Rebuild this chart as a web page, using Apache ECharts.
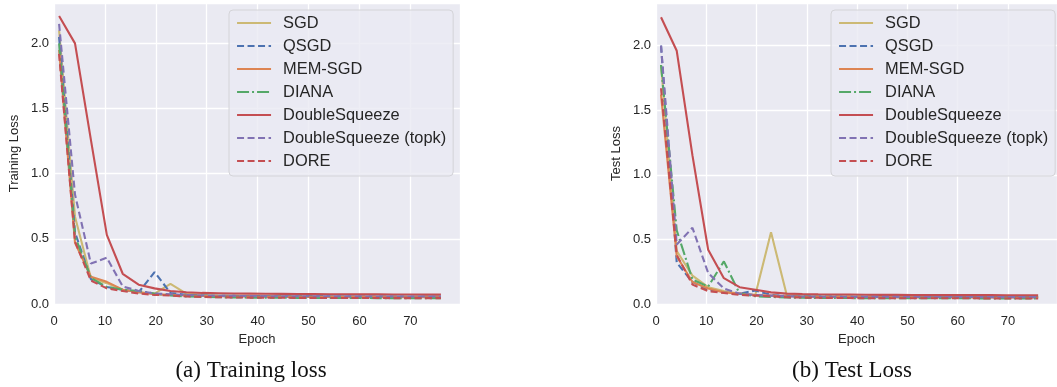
<!DOCTYPE html>
<html>
<head>
<meta charset="utf-8">
<script src="https://cdn.jsdelivr.net/npm/echarts@6/dist/echarts.min.js"></script>
<style>
  html, body { margin: 0; padding: 0; background: #fff; }
  #chart { width: 1057px; height: 387px; }
</style>
</head>
<body>
<div id="chart"></div>
<script>
// epochs at which the losses were recorded
const epochs = [1, 4.125, 7.25, 10.375, 13.5, 16.625, 19.75, 22.875, 26, 29.125,
  32.25, 35.375, 38.5, 41.625, 44.75, 47.875, 51, 54.125, 57.25, 60.375,
  63.5, 66.625, 69.75, 72.875, 76];

const xTicks = [0, 10, 20, 30, 40, 50, 60, 70];
const yTicks = [0, 0.5, 1.0, 1.5, 2.0];

const methods = ['SGD', 'QSGD', 'MEM-SGD', 'DIANA', 'DoubleSqueeze', 'DoubleSqueeze (topk)', 'DORE'];

// training loss (a)
const trainSGD = [2.10, 0.67, 0.20, 0.16, 0.11, 0.09, 0.08, 0.155, 0.08, 0.07, 0.065, 0.065, 0.063, 0.062, 0.061, 0.06, 0.06, 0.059, 0.059, 0.058, 0.058, 0.057, 0.057, 0.057, 0.056];
const trainQSGD = [2.05, 0.55, 0.19, 0.13, 0.11, 0.09, 0.245, 0.085, 0.07, 0.065, 0.063, 0.062, 0.061, 0.06, 0.06, 0.059, 0.059, 0.058, 0.058, 0.057, 0.057, 0.057, 0.056, 0.056, 0.056];
const trainMEM = [1.95, 0.47, 0.21, 0.17, 0.11, 0.09, 0.075, 0.07, 0.065, 0.062, 0.06, 0.058, 0.057, 0.056, 0.055, 0.055, 0.054, 0.054, 0.053, 0.053, 0.053, 0.052, 0.052, 0.052, 0.052];
const trainDIANA = [2.0, 0.52, 0.20, 0.13, 0.11, 0.10, 0.08, 0.065, 0.058, 0.055, 0.052, 0.05, 0.049, 0.048, 0.048, 0.047, 0.047, 0.046, 0.046, 0.046, 0.045, 0.045, 0.045, 0.045, 0.045];
const trainDS = [2.21, 2.0, 1.26, 0.53, 0.232, 0.148, 0.12, 0.10, 0.09, 0.085, 0.083, 0.081, 0.08, 0.079, 0.078, 0.077, 0.076, 0.075, 0.075, 0.074, 0.074, 0.073, 0.073, 0.072, 0.072];
const trainTopk = [2.15, 0.84, 0.31, 0.355, 0.135, 0.10, 0.08, 0.075, 0.068, 0.065, 0.063, 0.062, 0.061, 0.06, 0.06, 0.06, 0.059, 0.059, 0.059, 0.058, 0.058, 0.058, 0.058, 0.057, 0.057];
const trainDORE = [1.92, 0.48, 0.18, 0.12, 0.10, 0.08, 0.07, 0.065, 0.058, 0.054, 0.052, 0.05, 0.049, 0.048, 0.048, 0.047, 0.047, 0.046, 0.046, 0.046, 0.046, 0.045, 0.045, 0.045, 0.045];

// test loss (b)
const testSGD = [1.85, 0.41, 0.22, 0.13, 0.10, 0.08, 0.07, 0.555, 0.07, 0.065, 0.062, 0.06, 0.059, 0.058, 0.057, 0.057, 0.056, 0.056, 0.055, 0.055, 0.055, 0.054, 0.054, 0.054, 0.054];
const testQSGD = [2.0, 0.32, 0.17, 0.11, 0.09, 0.08, 0.105, 0.07, 0.062, 0.06, 0.058, 0.057, 0.056, 0.056, 0.055, 0.055, 0.055, 0.054, 0.054, 0.054, 0.054, 0.053, 0.053, 0.053, 0.053];
const testMEM = [1.62, 0.37, 0.17, 0.12, 0.09, 0.08, 0.07, 0.065, 0.06, 0.057, 0.055, 0.054, 0.053, 0.052, 0.052, 0.051, 0.051, 0.05, 0.05, 0.05, 0.05, 0.05, 0.05, 0.05, 0.05];
const testDIANA = [1.85, 0.57, 0.19, 0.135, 0.33, 0.08, 0.06, 0.055, 0.05, 0.048, 0.047, 0.046, 0.046, 0.045, 0.045, 0.045, 0.044, 0.044, 0.044, 0.044, 0.044, 0.043, 0.043, 0.043, 0.043];
const testDS = [2.22, 1.96, 1.15, 0.42, 0.2, 0.13, 0.11, 0.09, 0.08, 0.077, 0.075, 0.074, 0.073, 0.072, 0.071, 0.071, 0.07, 0.07, 0.07, 0.069, 0.069, 0.069, 0.068, 0.068, 0.068];
const testTopk = [2.0, 0.46, 0.59, 0.24, 0.12, 0.08, 0.07, 0.065, 0.06, 0.058, 0.057, 0.056, 0.056, 0.055, 0.055, 0.055, 0.054, 0.054, 0.054, 0.054, 0.054, 0.053, 0.053, 0.053, 0.053];
const testDORE = [1.67, 0.38, 0.15, 0.10, 0.085, 0.07, 0.065, 0.06, 0.052, 0.05, 0.048, 0.047, 0.046, 0.045, 0.045, 0.045, 0.044, 0.044, 0.044, 0.044, 0.044, 0.043, 0.043, 0.043, 0.043];

const trainData = [trainSGD, trainQSGD, trainMEM, trainDIANA, trainDS, trainTopk, trainDORE];
const testData = [testSGD, testQSGD, testMEM, testDIANA, testDS, testTopk, testDORE];

// seaborn "deep" colours and matplotlib line styles
const colors = ['#CCB974', '#4C72B0', '#DD8452', '#55A868', '#C44E52', '#8172B3', '#C44E52'];
const dashes = ['solid', [7, 3.5], 'solid', [12, 3, 2, 3], 'solid', [7, 3.5], [7, 3.5]];

const font = 'Liberation Sans, Arial, sans-serif';
const textColor = '#262626';

const chart = echarts.init(document.getElementById('chart'));

function makeX(gridIndex) {
  return {
    type: 'value',
    gridIndex: gridIndex,
    min: 0,
    max: 79.75,
    interval: 10,
    name: 'Epoch',
    nameLocation: 'middle',
    nameGap: 25,
    nameTextStyle: { color: textColor, fontSize: 13, fontFamily: font },
    axisLine: { show: false },
    axisTick: { show: false },
    axisLabel: {
      color: textColor, fontSize: 13, fontFamily: font, margin: 11,
      showMaxLabel: false,
      formatter: v => (xTicks.indexOf(v) >= 0 ? String(v) : '')
    },
    splitLine: { show: true, lineStyle: { color: '#ffffff', width: 1.3 } }
  };
}

function makeY(gridIndex, max, label) {
  return {
    type: 'value',
    gridIndex: gridIndex,
    min: 0,
    max: max,
    interval: 0.5,
    name: label,
    nameLocation: 'middle',
    nameGap: 33,
    nameTextStyle: { color: textColor, fontSize: 13, fontFamily: font },
    axisLine: { show: false },
    axisTick: { show: false },
    axisLabel: {
      color: textColor, fontSize: 13, fontFamily: font, margin: 5,
      showMaxLabel: false,
      formatter: v => (yTicks.indexOf(v) >= 0 ? v.toFixed(1) : '')
    },
    splitLine: { show: true, lineStyle: { color: '#ffffff', width: 1.3 } }
  };
}

function makeLegend(left) {
  return {
    left: left,
    top: 10,
    orient: 'vertical',
    data: methods,
    itemWidth: 34,
    itemHeight: 14,
    itemGap: 7,
    padding: [5, 7, 7, 7],
    backgroundColor: 'rgba(234,234,242,0.8)',
    borderColor: '#d4d4d8',
    borderWidth: 1,
    borderRadius: 4,
    itemStyle: { opacity: 0 },
    lineStyle: { width: 2.1 },
    textStyle: { color: textColor, fontSize: 16.4, lineHeight: 14, fontFamily: font, padding: [0, 0, 0, 7] }
  };
}

const series = [];
[trainData, testData].forEach((set, g) => {
  set.forEach((vals, i) => {
    series.push({
      type: 'line',
      name: methods[i],
      xAxisIndex: g,
      yAxisIndex: g,
      data: epochs.map((e, k) => [e, vals[k]]),
      symbol: 'none',
      silent: true,
      lineStyle: { color: colors[i], width: 2.1, type: dashes[i] },
      itemStyle: { color: colors[i] }
    });
  });
});

chart.setOption({
  animation: false,
  grid: [
    { left: 54, top: 3, width: 406, height: 301, show: true, backgroundColor: '#EAEAF2', borderWidth: 0 },
    { left: 656, top: 3, width: 406, height: 301, show: true, backgroundColor: '#EAEAF2', borderWidth: 0 }
  ],
  xAxis: [makeX(0), makeX(1)],
  yAxis: [makeY(0, 2.31, 'Training Loss'), makeY(1, 2.33, 'Test Loss')],
  legend: [makeLegend(229), makeLegend(831)],
  series: series,
  graphic: [
    {
      type: 'text', x: 251, y: 371,
      style: { text: '(a) Training loss', fill: '#111', font: '23px "Liberation Serif", serif', textAlign: 'center', textVerticalAlign: 'middle' }
    },
    {
      type: 'text', x: 852, y: 371,
      style: { text: '(b) Test Loss', fill: '#111', font: '23px "Liberation Serif", serif', textAlign: 'center', textVerticalAlign: 'middle' }
    }
  ]
});
</script>
</body>
</html>
